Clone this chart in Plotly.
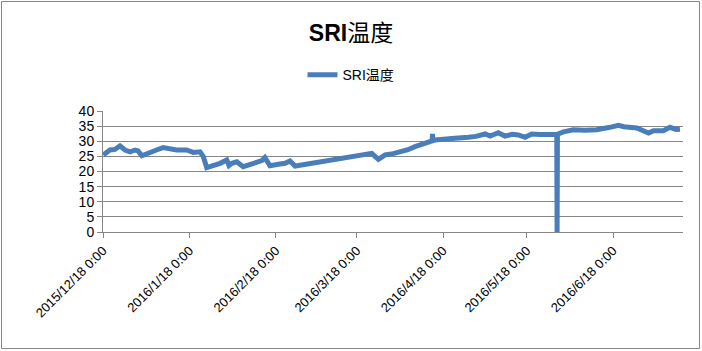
import plotly.graph_objects as go

dates = [
    "2015-12-18 02:00", "2015-12-20 12:00", "2015-12-22 07:00", "2015-12-24 02:00",
    "2015-12-25 22:00", "2015-12-27 17:00", "2015-12-29 12:00", "2015-12-30 14:00",
    "2015-12-31 22:00", "2016-01-03 22:00", "2016-01-06 10:00", "2016-01-08 14:00",
    "2016-01-11 00:00", "2016-01-13 10:00", "2016-01-17 00:00", "2016-01-19 10:00",
    "2016-01-21 19:00", "2016-01-23 00:00", "2016-01-24 05:00", "2016-01-26 14:00",
    "2016-01-29 00:00", "2016-01-31 10:00", "2016-02-01 05:00", "2016-02-02 05:00",
    "2016-02-04 00:00", "2016-02-06 07:00", "2016-02-08 17:00", "2016-02-11 02:00",
    "2016-02-13 00:00", "2016-02-14 02:00", "2016-02-15 22:00", "2016-02-18 22:00",
    "2016-02-21 07:00", "2016-02-23 02:00", "2016-02-24 22:00", "2016-02-25 14:00",
    "2016-03-23 10:00", "2016-03-25 19:00", "2016-03-28 05:00", "2016-03-31 02:00",
    "2016-04-03 05:00", "2016-04-05 10:00", "2016-04-07 22:00", "2016-04-10 12:00",
    "2016-04-12 17:00", "2016-04-14 02:00", "2016-04-14 05:00", "2016-04-14 08:00",
    "2016-04-15 02:00", "2016-04-18 17:00", "2016-04-22 07:00", "2016-04-27 02:00",
    "2016-04-29 19:00", "2016-05-03 02:00", "2016-05-04 22:00", "2016-05-07 19:00",
    "2016-05-10 05:00", "2016-05-12 19:00", "2016-05-15 00:00", "2016-05-17 10:00",
    "2016-05-19 19:00", "2016-05-22 19:00", "2016-05-27 14:00", "2016-05-28 19:00",
    "2016-05-28 22:00", "2016-05-29 01:00", "2016-05-31 05:00", "2016-06-03 17:00",
    "2016-06-07 22:00", "2016-06-12 02:00", "2016-06-16 22:00", "2016-06-19 22:00",
    "2016-06-21 22:00", "2016-06-24 02:00", "2016-06-26 12:00", "2016-06-30 17:00",
    "2016-07-02 12:00", "2016-07-06 00:00", "2016-07-08 10:00", "2016-07-10 14:00",
    "2016-07-12 00:00",
]
temps = [
    25.5, 27.1, 27.3, 28.5,
    27.1, 26.5, 27.1, 26.8,
    25.2, 26.5, 27.2, 27.9,
    27.4, 27.1, 27.1, 26.3,
    26.5, 24.9, 21.3, 21.9,
    22.7, 23.8, 22.0, 22.7,
    23.2, 21.6, 22.3, 23.2,
    23.6, 24.6, 21.9, 22.4,
    22.7, 23.5, 21.8, 21.9,
    26.0, 24.0, 25.5, 25.9,
    26.5, 27.2, 28.2, 29.0,
    29.9, 30.1, 32.4, 30.2,
    30.4, 30.8, 31.0, 31.3,
    31.6, 32.4, 31.7, 32.8,
    31.7, 32.3, 32.1, 31.3,
    32.4, 32.2, 32.4, 32.2,
    0.0, 32.3, 33.1, 33.8,
    33.6, 33.8, 34.6, 35.3,
    34.8, 34.6, 34.4, 32.7,
    33.5, 33.5, 34.6, 33.9,
    34.0,
]

tick_vals = ["2015-12-18", "2016-01-18", "2016-02-18", "2016-03-18",
             "2016-04-18", "2016-05-18", "2016-06-18"]
tick_text = ["2015/12/18 0:00", "2016/1/18 0:00", "2016/2/18 0:00", "2016/3/18 0:00",
             "2016/4/18 0:00", "2016/5/18 0:00", "2016/6/18 0:00"]

FONT = "Liberation Sans, Noto Sans CJK SC, sans-serif"
GREY = "#868686"
BLUE = "#4A7EBB"

fig = go.Figure()
fig.add_trace(go.Scatter(
    x=dates, y=temps, mode="lines", name="SRI温度",
    line=dict(color=BLUE, width=5),
))

fig.update_layout(
    width=702, height=351,
    margin=dict(l=103, r=19, t=111, b=119),
    paper_bgcolor="white", plot_bgcolor="white",
    font=dict(family=FONT, color="black", size=13),
    title=dict(text="<b>SRI</b>温度", x=0.5, xref="container", xanchor="center",
               y=1 - 33 / 351, yref="container", yanchor="middle",
               font=dict(size=23, family=FONT, color="black")),
    showlegend=True,
    legend=dict(orientation="h", x=0.4276, xanchor="center", y=1.297, yanchor="middle",
                font=dict(size=14, family=FONT), itemwidth=30, bgcolor="rgba(0,0,0,0)"),
    xaxis=dict(
        type="date", range=["2015-12-18", "2016-07-13 02:00"],
        tickmode="array", tickvals=tick_vals, ticktext=tick_text,
        tickangle=-45, ticks="outside", ticklen=5, tickcolor=GREY,
        showgrid=False, showline=True, linecolor=GREY, linewidth=1,
        zeroline=False, tickfont=dict(size=13),
    ),
    yaxis=dict(
        range=[0, 40], dtick=5, tick0=0,
        ticks="outside", ticklen=5, tickcolor=GREY,
        showgrid=True, gridcolor=GREY, gridwidth=1,
        showline=True, linecolor=GREY, linewidth=1,
        zeroline=False, tickfont=dict(size=14),
    ),
    shapes=[dict(type="rect", xref="paper", yref="paper",
                 x0=-0.175, x1=1.0284, y0=-0.963, y1=1.905,
                 line=dict(color=GREY, width=1), fillcolor="rgba(0,0,0,0)", layer="below")],
)

fig.write_html("out.html")
